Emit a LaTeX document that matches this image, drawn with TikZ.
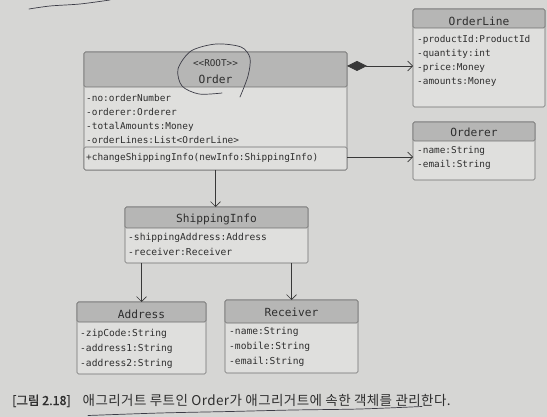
\documentclass[tikz,border=0pt]{standalone}
\usepackage{fontspec}
\usetikzlibrary{arrows.meta}
\newfontfamily\monof{DejaVu Sans Mono}
\newfontfamily\krf[LetterSpace=3]{Noto Sans CJK KR}
\newfontfamily\krbf[FakeBold=1.2]{Noto Sans CJK KR}
\definecolor{paper}{HTML}{D6D6D4}
\definecolor{boxfill}{HTML}{DFDFDD}
\definecolor{hdrfill}{HTML}{B6B6B5}
\definecolor{boxline}{HTML}{707070}
\definecolor{ink}{HTML}{2E2E2E}
\definecolor{lineclr}{HTML}{383838}
\definecolor{penclr}{HTML}{3C3C46}
\begin{document}
\begin{tikzpicture}[x=1pt,y=-1pt,
  body/.style={draw=boxline, fill=boxfill, line width=0.6pt, inner sep=0pt, outer sep=0pt, anchor=north west, rounded corners=1.5pt},
  hdr/.style={draw=boxline, fill=hdrfill, line width=0.6pt, inner sep=0pt, outer sep=0pt, anchor=north west, rounded corners=1.5pt},
  ttl/.style={text=ink, font=\monof\fontsize{11.2}{13}\selectfont, inner sep=0pt, anchor=base},
  stereo/.style={text=ink, font=\monof\fontsize{9.3}{11}\selectfont, inner sep=0pt, anchor=base},
  attrA/.style={text=ink, font=\monof\fontsize{9.4}{14}\selectfont, inner sep=0pt, anchor=north west, align=left},
  attrB/.style={text=ink, font=\monof\fontsize{9.6}{15}\selectfont, inner sep=0pt, anchor=north west, align=left},
  assoc/.style={draw=lineclr, line width=0.7pt, -{Straight Barb[length=5pt,width=10pt]}},
  comp/.style={draw=lineclr, line width=0.7pt, {Diamond[length=20pt,width=10pt,fill=lineclr]}-{Straight Barb[length=5pt,width=10pt]}},
  pen/.style={draw=penclr, line width=0.7pt, line cap=round}
]
\fill[paper] (0,0) rectangle (547,417);
\useasboundingbox (0,0) rectangle (547,417);

% Order
\node[body, minimum width=263pt, minimum height=118pt] (order) at (84,52) {};
\node[hdr, minimum width=263pt, minimum height=35pt] (order-h) at (84,52) {};
\node[body, anchor=south west, minimum width=263pt, minimum height=23pt] (order-m) at (order.south west) {};
\node[stereo] (order-st) at (215.5,67) {<<ROOT>>};
\node[ttl] (order-t) at (215.5,83.5) {Order};
\node[attrA] (order-a) at (86,91.6) {\strut-no:orderNumber\\\strut-orderer:Orderer\\\strut-totalAmounts:Money\\\strut-orderLines:List<OrderLine>};
\node[attrA] (order-op) at (86,150.6) {\strut+changeShippingInfo(newInfo:ShippingInfo)};

% OrderLine
\node[body, minimum width=132pt, minimum height=98pt] (orderline) at (413,9) {};
\node[hdr, minimum width=132pt, minimum height=19pt] (orderline-h) at (413,9) {};
\node[ttl] (orderline-t) at (479,26) {OrderLine};
\node[attrA] (orderline-a) at (417,32.9) {\strut-productId:ProductId\\\strut-quantity:int\\\strut-price:Money\\\strut-amounts:Money};

% Orderer
\node[body, minimum width=122pt, minimum height=58pt] (orderer) at (413,122) {};
\node[hdr, minimum width=122pt, minimum height=19pt] (orderer-h) at (413,122) {};
\node[ttl] (orderer-t) at (474,136.5) {Orderer};
\node[attrA] (orderer-a) at (417,143.6) {\strut-name:String\\\strut-email:String};

% ShippingInfo
\node[body, minimum width=183pt, minimum height=56pt] (shipping) at (125,207) {};
\node[hdr, minimum width=183pt, minimum height=21pt] (shipping-h) at (125,207) {};
\node[ttl] (shipping-t) at (216.5,222.5) {ShippingInfo};
\node[attrB] (shipping-a) at (128,230.3) {\strut-shippingAddress:Address\\\strut-receiver:Receiver};

% Address
\node[body, minimum width=129pt, minimum height=72pt] (address) at (77,302) {};
\node[hdr, minimum width=129pt, minimum height=20pt] (address-h) at (77,302) {};
\node[ttl] (address-t) at (141.5,318.5) {Address};
\node[attrB] (address-a) at (80,326) {\strut-zipCode:String\\\strut-address1:String\\\strut-address2:String};

% Receiver
\node[body, minimum width=133pt, minimum height=73pt] (receiver) at (225,300) {};
\node[hdr, minimum width=133pt, minimum height=23pt] (receiver-h) at (225,300) {};
\node[ttl] (receiver-t) at (291.5,316.5) {Receiver};
\node[attrB] (receiver-a) at (229,323.7) {\strut-name:String\\\strut-mobile:String\\\strut-email:String};

% connectors
\coordinate (o1) at ([yshift=-14pt]order.north east);
\draw[comp] (o1) -- (o1 -| orderline.west);
\coordinate (o2) at ([yshift=13pt]order.south east);
\draw[assoc] (o2) -- (o2 -| orderer.west);
\draw[assoc] (order.south) -- (order.south |- shipping.north);
\draw[assoc] (address.north |- shipping.south) -- (address.north);
\draw[assoc] (receiver.north |- shipping.south) -- (receiver.north);

% caption
\node[anchor=base west, inner sep=0pt, text=ink, font=\fontsize{12.5}{15}\selectfont] (cap) at (12,405)
  {{\krbf [그림 2.18]}\hspace{12pt}{\fontsize{13.5}{16}\selectfont\krf 애그리거트 루트인 Order가 애그리거트에 속한 객체를 관리한다.}};

% handwritten pen marks
\draw[pen] plot[smooth] coordinates {(240,97) (248,76) (250,58) (241,47) (216,44) (191,51) (178,69) (182,86) (199,94) (222,93)};
\draw[pen] plot[smooth] coordinates {(29,9) (50,6) (80,4) (110,0)};
\draw[pen] plot[smooth] coordinates {(88,415.5) (160,413) (230,411.5) (293,410) (360,409) (422,406.5)};
\end{tikzpicture}
\end{document}
